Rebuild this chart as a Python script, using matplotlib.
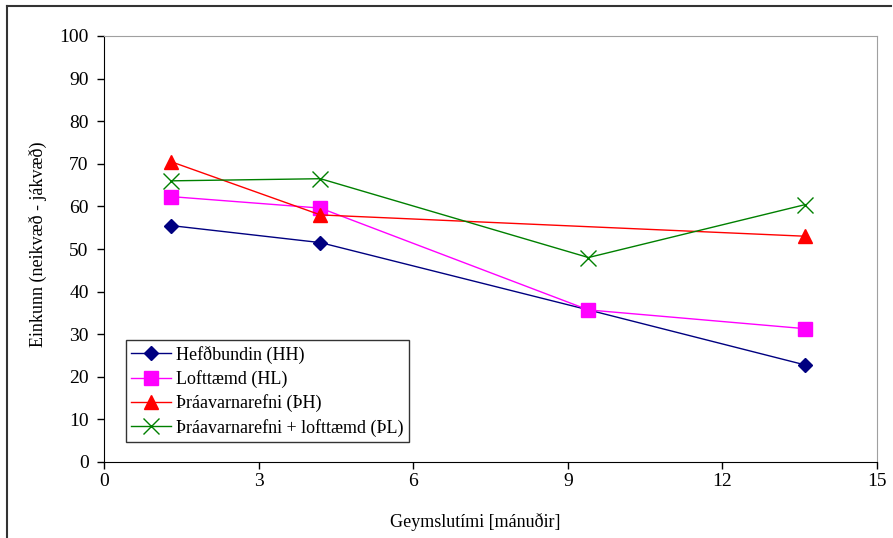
import matplotlib.pyplot as plt
from matplotlib.lines import Line2D

plt.rcParams["font.family"] = ["Liberation Serif", "DejaVu Serif"]

months_hh = [1.3, 4.2, 9.4, 13.6]
score_hh = [55.5, 51.5, 35.7, 22.8]

months_hl = [1.3, 4.2, 9.4, 13.6]
score_hl = [62.3, 59.6, 35.7, 31.3]

months_ph = [1.3, 4.2, 13.6]
score_ph = [70.5, 58.0, 53.0]

months_pl = [1.3, 4.2, 9.4, 13.6]
score_pl = [66.0, 66.5, 48.0, 60.4]

fig = plt.figure(figsize=(8.93, 5.38), dpi=100)
ax = fig.add_axes([104 / 893, 76 / 538, 773 / 893, 426 / 538])

ax.plot(months_hh, score_hh, color="#000080", lw=1, marker="D", ms=7.5,
        label="Hefðbundin (HH)")
ax.plot(months_hl, score_hl, color="#FF00FF", lw=1, marker="s", ms=10,
        label="Lofttæmd (HL)")
ax.plot(months_ph, score_ph, color="#FF0000", lw=1, marker="^", ms=10,
        label="Þráavarnarefni (ÞH)")
ax.plot(months_pl, score_pl, color="#008000", lw=1, marker="x", ms=11, mew=1,
        label="Þráavarnarefni + lofttæmd (ÞL)")

ax.set_xlim(0, 15)
ax.set_ylim(0, 100)
ax.set_xticks(range(0, 16, 3))
ax.set_yticks(range(0, 101, 10))
ax.tick_params(labelsize=14, length=5, width=1, direction="out")
ax.tick_params(axis="x", pad=3)
ax.tick_params(axis="y", pad=6)

ax.spines["left"].set_color("black")
ax.spines["bottom"].set_color("black")
ax.spines["top"].set_color("#A0A0A0")
ax.spines["right"].set_color("#A0A0A0")

ax.set_xlabel("Geymslutími [mánuðir]", fontsize=13)
ax.xaxis.set_label_coords(0.48, -0.12)
ax.set_ylabel("Einkunn (neikvæð - jákvæð)", fontsize=13)
ax.yaxis.set_label_coords(-0.074, 0.51)

leg = ax.legend(loc="lower left", bbox_to_anchor=(0.028, 0.047), fontsize=13,
                frameon=True, fancybox=False, edgecolor="black",
                borderpad=0.3, labelspacing=0.35, handlelength=2.2,
                handletextpad=0.3, borderaxespad=0)
leg.get_frame().set_linewidth(1)

# outer chart frame, open to the right and bottom
frame_x = 7 / 893
frame_y = 1 - 6 / 538
fig.add_artist(Line2D([frame_x, 0.998], [frame_y, frame_y], color="#333333", lw=1.5))
fig.add_artist(Line2D([frame_x, frame_x], [0, frame_y], color="#333333", lw=1.5))

fig.savefig("out.png", dpi=100)
